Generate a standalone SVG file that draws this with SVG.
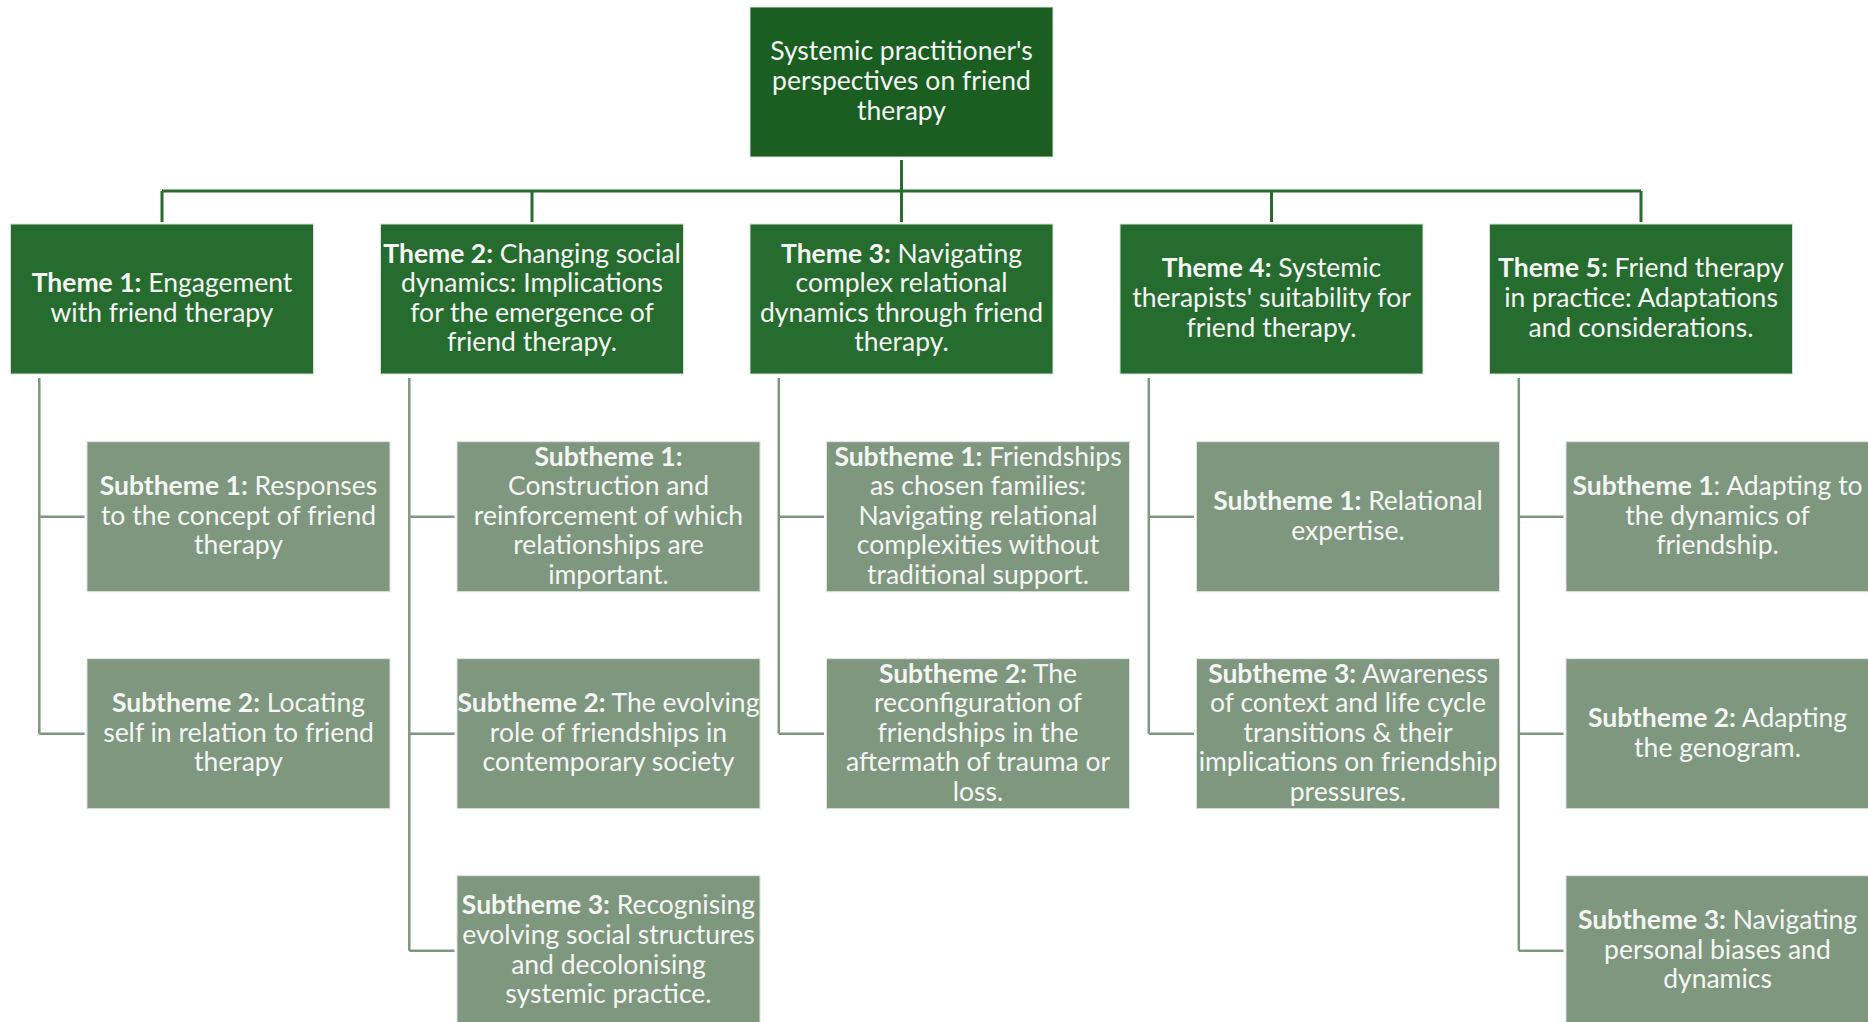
<svg xmlns="http://www.w3.org/2000/svg" width="1868" height="1022" viewBox="0 0 1868 1022">
  <style>
    .root { fill: #1b5e21; stroke: #d7e3d7; stroke-width: 1; }
    .theme { fill: #276c2f; stroke: #d7e3d7; stroke-width: 1; }
    .sub { fill: #7f977f; stroke: #dde5dd; stroke-width: 1; }
    text { font-family: "Lato", "Liberation Sans", sans-serif; font-size: 26.5px; fill: #f4f6f4; text-anchor: middle; }
    .b { font-weight: bold; }
    .main { fill: none; stroke: #2a6b30; stroke-width: 3; }
    .branch { fill: none; stroke: #7f977f; stroke-width: 2.5; }
  </style>

  <!-- connectors -->
  <g id="connectors">
    <path class="main" d="M901.5 160 V222 M162 191 H1641 M162 191 V222 M532 191 V222 M1271.5 191 V222 M1641 191 V222"/>
    <path class="branch" d="M39.3 378 V733.7 M39.3 516.7 H84.5 M39.3 733.7 H84.5"/>
    <path class="branch" d="M409.3 378 V950.7 M409.3 516.7 H454.5 M409.3 733.7 H454.5 M409.3 950.7 H454.5"/>
    <path class="branch" d="M778.8 378 V733.7 M778.8 516.7 H824 M778.8 733.7 H824"/>
    <path class="branch" d="M1148.8 378 V733.7 M1148.8 516.7 H1194 M1148.8 733.7 H1194"/>
    <path class="branch" d="M1518.8 378 V950.7 M1518.8 516.7 H1563.5 M1518.8 733.7 H1563.5 M1518.8 950.7 H1563.5"/>
  </g>

  <!-- root -->
  <g id="root">
    <rect class="root" x="750" y="7" width="303" height="150"/>
    <text><tspan x="901.5" y="60.4">Systemic practitioner's</tspan><tspan x="901.5" y="90">perspectives on friend</tspan><tspan x="901.5" y="119.6">therapy</tspan></text>
  </g>

  <!-- themes -->
  <g id="theme1">
    <rect class="theme" x="10.5" y="224" width="303" height="150"/>
    <text><tspan x="162" y="292.2"><tspan class="b">Theme 1:</tspan> Engagement</tspan><tspan x="162" y="321.8">with friend therapy</tspan></text>
  </g>
  <g id="theme2">
    <rect class="theme" x="380.5" y="224" width="303" height="150"/>
    <text><tspan x="532" y="262.6"><tspan class="b">Theme 2:</tspan> Changing social</tspan><tspan x="532" y="292.2">dynamics: Implications</tspan><tspan x="532" y="321.8">for the emergence of</tspan><tspan x="532" y="351.4">friend therapy.</tspan></text>
  </g>
  <g id="theme3">
    <rect class="theme" x="750" y="224" width="303" height="150"/>
    <text><tspan x="901.5" y="262.6"><tspan class="b">Theme 3:</tspan> Navigating</tspan><tspan x="901.5" y="292.2">complex relational</tspan><tspan x="901.5" y="321.8">dynamics through friend</tspan><tspan x="901.5" y="351.4">therapy.</tspan></text>
  </g>
  <g id="theme4">
    <rect class="theme" x="1120" y="224" width="303" height="150"/>
    <text><tspan x="1271.5" y="277.4"><tspan class="b">Theme 4:</tspan> Systemic</tspan><tspan x="1271.5" y="307">therapists' suitability for</tspan><tspan x="1271.5" y="336.6">friend therapy.</tspan></text>
  </g>
  <g id="theme5">
    <rect class="theme" x="1489.5" y="224" width="303" height="150"/>
    <text><tspan x="1641" y="277.4"><tspan class="b">Theme 5:</tspan> Friend therapy</tspan><tspan x="1641" y="307">in practice: Adaptations</tspan><tspan x="1641" y="336.6">and considerations.</tspan></text>
  </g>

  <!-- theme 1 subthemes -->
  <g id="t1s1">
    <rect class="sub" x="87" y="441.7" width="303" height="150"/>
    <text><tspan x="238.5" y="495.1"><tspan class="b">Subtheme 1:</tspan> Responses</tspan><tspan x="238.5" y="524.7">to the concept of friend</tspan><tspan x="238.5" y="554.3">therapy</tspan></text>
  </g>
  <g id="t1s2">
    <rect class="sub" x="87" y="658.7" width="303" height="150"/>
    <text><tspan x="238.5" y="712.1"><tspan class="b">Subtheme 2:</tspan> Locating</tspan><tspan x="238.5" y="741.7">self in relation to friend</tspan><tspan x="238.5" y="771.3">therapy</tspan></text>
  </g>

  <!-- theme 2 subthemes -->
  <g id="t2s1">
    <rect class="sub" x="457" y="441.7" width="303" height="150"/>
    <text><tspan x="608.5" y="465.5" class="b">Subtheme 1:</tspan><tspan x="608.5" y="495.1">Construction and</tspan><tspan x="608.5" y="524.7">reinforcement of which</tspan><tspan x="608.5" y="554.3">relationships are</tspan><tspan x="608.5" y="583.9">important.</tspan></text>
  </g>
  <g id="t2s2">
    <rect class="sub" x="457" y="658.7" width="303" height="150"/>
    <text><tspan x="608.5" y="712.1"><tspan class="b">Subtheme 2:</tspan> The evolving</tspan><tspan x="608.5" y="741.7">role of friendships in</tspan><tspan x="608.5" y="771.3">contemporary society</tspan></text>
  </g>
  <g id="t2s3">
    <rect class="sub" x="457" y="875.7" width="303" height="150"/>
    <text><tspan x="608.5" y="914.3"><tspan class="b">Subtheme 3:</tspan> Recognising</tspan><tspan x="608.5" y="943.9">evolving social structures</tspan><tspan x="608.5" y="973.5">and decolonising</tspan><tspan x="608.5" y="1003.1">systemic practice.</tspan></text>
  </g>

  <!-- theme 3 subthemes -->
  <g id="t3s1">
    <rect class="sub" x="826.5" y="441.7" width="303" height="150"/>
    <text><tspan x="978" y="465.5"><tspan class="b">Subtheme 1:</tspan> Friendships</tspan><tspan x="978" y="495.1">as chosen families:</tspan><tspan x="978" y="524.7">Navigating relational</tspan><tspan x="978" y="554.3">complexities without</tspan><tspan x="978" y="583.9">traditional support.</tspan></text>
  </g>
  <g id="t3s2">
    <rect class="sub" x="826.5" y="658.7" width="303" height="150"/>
    <text><tspan x="978" y="682.5"><tspan class="b">Subtheme 2:</tspan> The</tspan><tspan x="978" y="712.1">reconfiguration of</tspan><tspan x="978" y="741.7">friendships in the</tspan><tspan x="978" y="771.3">aftermath of trauma or</tspan><tspan x="978" y="800.9">loss.</tspan></text>
  </g>

  <!-- theme 4 subthemes -->
  <g id="t4s1">
    <rect class="sub" x="1196.5" y="441.7" width="303" height="150"/>
    <text><tspan x="1348" y="509.9"><tspan class="b">Subtheme 1:</tspan> Relational</tspan><tspan x="1348" y="539.5">expertise.</tspan></text>
  </g>
  <g id="t4s3">
    <rect class="sub" x="1196.5" y="658.7" width="303" height="150"/>
    <text><tspan x="1348" y="682.5"><tspan class="b">Subtheme 3:</tspan> Awareness</tspan><tspan x="1348" y="712.1">of context and life cycle</tspan><tspan x="1348" y="741.7">transitions &amp; their</tspan><tspan x="1348" y="771.3">implications on friendship</tspan><tspan x="1348" y="800.9">pressures.</tspan></text>
  </g>

  <!-- theme 5 subthemes -->
  <g id="t5s1">
    <rect class="sub" x="1566" y="441.7" width="303" height="150"/>
    <text><tspan x="1717.5" y="495.1"><tspan class="b">Subtheme 1</tspan>: Adapting to</tspan><tspan x="1717.5" y="524.7">the dynamics of</tspan><tspan x="1717.5" y="554.3">friendship.</tspan></text>
  </g>
  <g id="t5s2">
    <rect class="sub" x="1566" y="658.7" width="303" height="150"/>
    <text><tspan x="1717.5" y="726.9"><tspan class="b">Subtheme 2:</tspan> Adapting</tspan><tspan x="1717.5" y="756.5">the genogram.</tspan></text>
  </g>
  <g id="t5s3">
    <rect class="sub" x="1566" y="875.7" width="303" height="150"/>
    <text><tspan x="1717.5" y="929.1"><tspan class="b">Subtheme 3:</tspan> Navigating</tspan><tspan x="1717.5" y="958.7">personal biases and</tspan><tspan x="1717.5" y="988.3">dynamics</tspan></text>
  </g>
</svg>
